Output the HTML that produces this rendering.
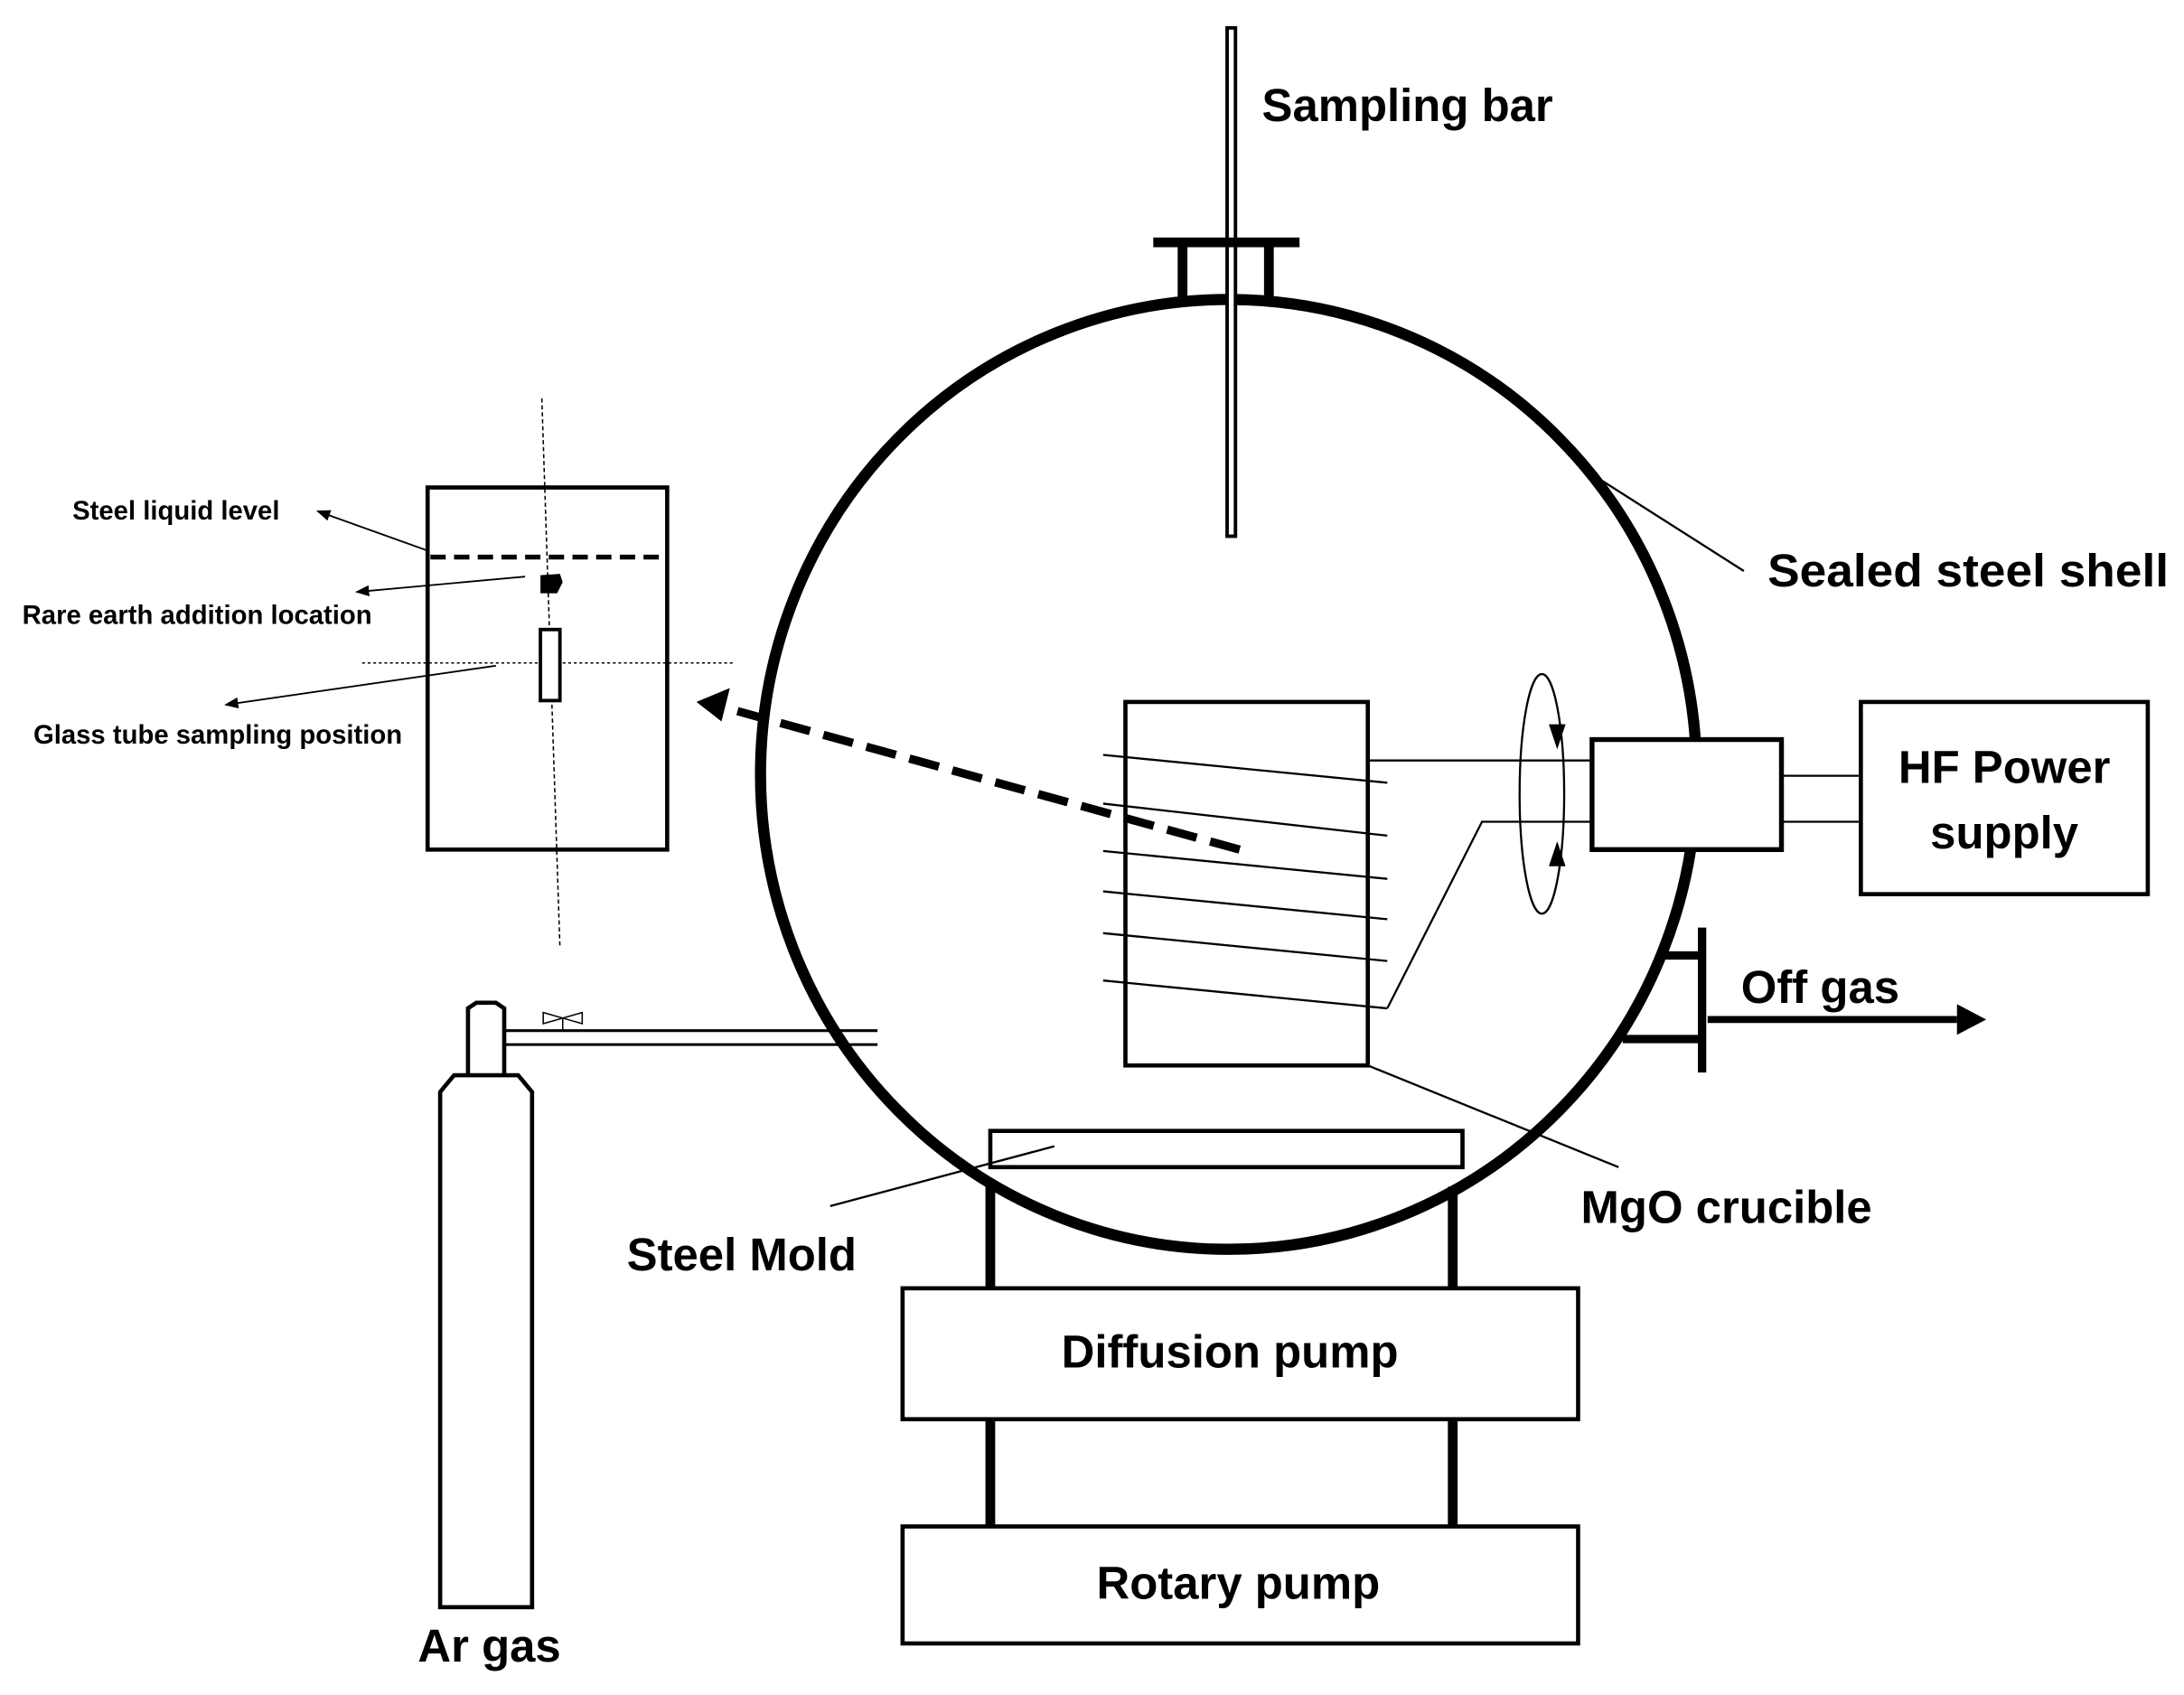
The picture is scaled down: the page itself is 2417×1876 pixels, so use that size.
<!DOCTYPE html>
<html><head><style>html,body{margin:0;padding:0;background:#fff}svg{display:block}</style></head><body>
<svg width="2417" height="1876" viewBox="0 0 1568 1217" xmlns="http://www.w3.org/2000/svg" font-family="Liberation Sans, sans-serif" font-weight="bold">
<defs>
<marker id="a" markerWidth="10" markerHeight="8" refX="9" refY="4" orient="auto" markerUnits="userSpaceOnUse"><path d="M0,0L10,4L0,8z" fill="#000"/></marker>
</defs>
<g fill="none" stroke="#000">
<!-- shell -->
<ellipse cx="882" cy="556" rx="336" ry="341" stroke-width="8"/>
<line x1="1150" y1="345" x2="1252" y2="410" stroke-width="1.5"/>
<!-- sampling bar -->
<rect x="881" y="20" width="6" height="365" stroke-width="2.5" fill="#fff"/>
<line x1="828" y1="174" x2="933" y2="174" stroke-width="7"/>
<line x1="849" y1="174" x2="849" y2="214" stroke-width="7"/>
<line x1="911" y1="174" x2="911" y2="214" stroke-width="7"/>
<!-- crucible -->
<rect x="808" y="504" width="174" height="261" stroke-width="3"/>
<g stroke-width="1.5">
<line x1="792" y1="542" x2="996" y2="562"/>
<line x1="792" y1="577" x2="996" y2="600"/>
<line x1="792" y1="611" x2="996" y2="631"/>
<line x1="792" y1="640" x2="996" y2="660"/>
<line x1="792" y1="670" x2="996" y2="690"/>
<line x1="792" y1="704" x2="996" y2="724"/>
<line x1="982" y1="546" x2="1143" y2="546"/>
<polyline points="996,724 1064,590 1143,590"/>
<line x1="982" y1="765" x2="1162" y2="838"/>
<line x1="1280" y1="557" x2="1335" y2="557"/>
<line x1="1280" y1="590" x2="1335" y2="590"/>
<ellipse cx="1107" cy="570" rx="16" ry="86"/>
</g>
<rect x="1143" y="531" width="136" height="79" stroke-width="3.5" fill="#fff"/>
<rect x="1336" y="504" width="206" height="138" stroke-width="3"/>
<!-- dashed arrow -->
<line x1="890" y1="610" x2="520" y2="508" stroke-width="6" stroke-dasharray="22,10"/>
<!-- off gas -->
<line x1="1222" y1="666" x2="1222" y2="770" stroke-width="6"/>
<line x1="1190" y1="686" x2="1222" y2="686" stroke-width="6"/>
<line x1="1165" y1="746" x2="1222" y2="746" stroke-width="6"/>
<line x1="1226" y1="732" x2="1405" y2="732" stroke-width="5"/>
<!-- mold -->
<rect x="711" y="812" width="339" height="26" stroke-width="3" fill="#fff"/>
<line x1="596" y1="866" x2="757" y2="823" stroke-width="1.5"/>
<line x1="711" y1="852" x2="711" y2="925" stroke-width="7"/>
<line x1="1043" y1="852" x2="1043" y2="925" stroke-width="7"/>
<line x1="711" y1="1019" x2="711" y2="1096" stroke-width="7"/>
<line x1="1043" y1="1019" x2="1043" y2="1096" stroke-width="7"/>
<rect x="648" y="925" width="485" height="94" stroke-width="3"/>
<rect x="648" y="1096" width="485" height="84" stroke-width="3"/>
<!-- Ar cylinder -->
<path d="M316,1154 L316,784 L326,772 L372,772 L382,784 L382,1154 Z" stroke-width="3"/>
<path d="M336,772 L336,724 L342,720 L356,720 L362,724 L362,772" stroke-width="3"/>
<line x1="362" y1="740" x2="630" y2="740" stroke-width="2"/>
<line x1="362" y1="750" x2="630" y2="750" stroke-width="2"/>
<path d="M390,727 L418,735 L418,727 L390,735 Z M404,731 L404,740" stroke-width="1"/>
<!-- inset -->
<rect x="307" y="350" width="172" height="260" stroke-width="3"/>
<line x1="309" y1="400" x2="477" y2="400" stroke-width="3.5" stroke-dasharray="11,6"/>
<line x1="389" y1="286" x2="402" y2="680" stroke-width="1" stroke-dasharray="3,2"/>
<line x1="260" y1="476" x2="528" y2="476" stroke-width="1" stroke-dasharray="2,2"/>
<rect x="388" y="452" width="14" height="51" stroke-width="2.5" fill="#fff"/>
<g stroke-width="1.2">
<line x1="306" y1="395" x2="228" y2="367" marker-end="url(#a)"/>
<line x1="377" y1="414" x2="256" y2="425" marker-end="url(#a)"/>
<line x1="356" y1="478" x2="162" y2="506" marker-end="url(#a)"/>
</g>
</g>
<path d="M388,413 L402,412 L404,418 L400,426 L388,426 Z" fill="#000"/>
<path d="M500,504 L524,494 L518,518 Z" fill="#000"/>
<path d="M1426,732 L1405,721 L1405,743 Z" fill="#000"/>
<path d="M1118,538 L1124,520 L1112,520 Z M1118,604 L1112,622 L1124,622 Z" fill="#000"/>
<g fill="#000">
<text x="906" y="87" font-size="33">Sampling bar</text>
<text x="1269" y="421" font-size="33" textLength="288" lengthAdjust="spacingAndGlyphs">Sealed steel shell</text>
<text x="1439" y="562" font-size="33" text-anchor="middle">HF Power</text>
<text x="1439" y="609" font-size="33" text-anchor="middle">supply</text>
<text x="1250" y="720" font-size="33">Off gas</text>
<text x="1135" y="878" font-size="33">MgO crucible</text>
<text x="450" y="912" font-size="33">Steel Mold</text>
<text x="883" y="982" font-size="33" text-anchor="middle">Diffusion pump</text>
<text x="889" y="1148" font-size="33" text-anchor="middle">Rotary pump</text>
<text x="300" y="1193" font-size="33">Ar gas</text>
<text x="52" y="373" font-size="19">Steel liquid level</text>
<text x="16" y="448" font-size="19">Rare earth addition location</text>
<text x="24" y="534" font-size="19">Glass tube sampling position</text>
</g>
</svg>
</body></html>
